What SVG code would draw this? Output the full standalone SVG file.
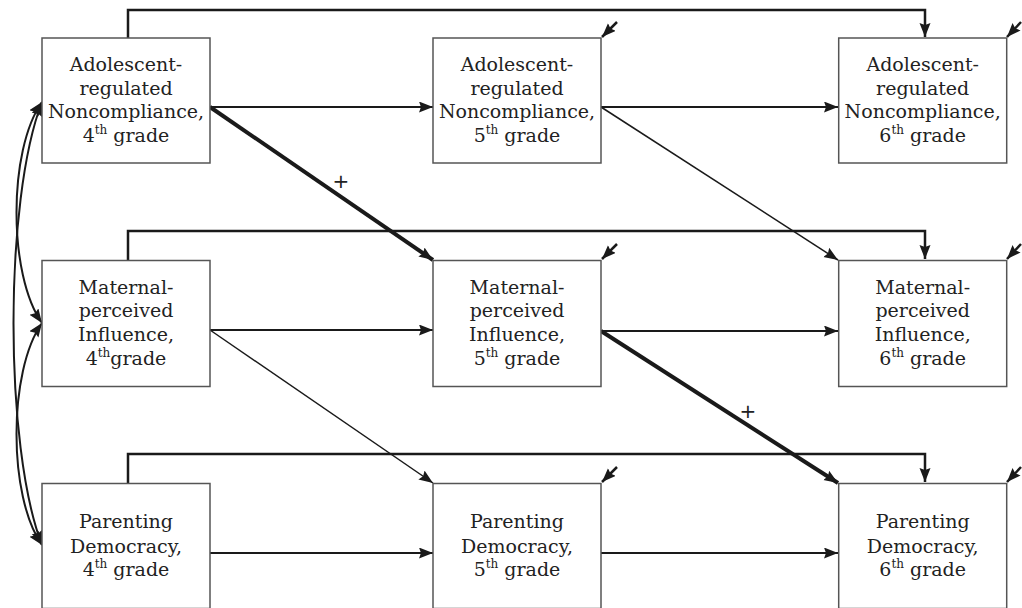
<svg xmlns="http://www.w3.org/2000/svg" width="1022" height="608" viewBox="0 0 1022 608">
<style>
.box{fill:#fff;stroke:#555;stroke-width:1.5}
.t{font-family:"DejaVu Serif","Liberation Serif",serif;font-size:19px;fill:#222;text-anchor:middle}
.sup{font-size:12px}
.c{fill:none;stroke:#1a1a1a}
.n{stroke-width:2;marker-end:url(#ah)}
.r{stroke-width:2.5;marker-end:url(#ah)}
.thin{stroke-width:1.5;marker-end:url(#ah)}
.thick{stroke-width:4;marker-end:url(#ah)}
.fb{stroke-width:2.5;marker-end:url(#ah)}
.cv{stroke-width:2;marker-start:url(#ahs);marker-end:url(#ah)}
.plus{font-family:"DejaVu Sans","Liberation Sans",sans-serif;font-size:20px;fill:#222;text-anchor:middle}
</style>
<defs>
<marker id="ah" markerUnits="userSpaceOnUse" markerWidth="15" markerHeight="12" refX="14" refY="5.5" orient="auto"><path d="M0,0 L14,5.5 L0,11 L2,5.5 z" fill="#1a1a1a"/></marker>
<marker id="ahs" markerUnits="userSpaceOnUse" markerWidth="15" markerHeight="12" refX="14" refY="5.5" orient="auto-start-reverse"><path d="M0,0 L14,5.5 L0,11 L2,5.5 z" fill="#1a1a1a"/></marker>
</defs>
<rect width="1022" height="608" fill="#fff"/>
<g id="connectors">
<path class="c fb" d="M128,38 V10 H925 V37"/>
<path class="c fb" d="M128,260 V231 H925 V259"/>
<path class="c fb" d="M128,483 V454 H925 V482"/>
<line class="c n" x1="210" y1="107" x2="433" y2="107"/>
<line class="c n" x1="601" y1="107" x2="838" y2="107"/>
<line class="c n" x1="210" y1="330" x2="433" y2="330"/>
<line class="c n" x1="601" y1="331" x2="838" y2="331"/>
<line class="c n" x1="210" y1="553" x2="433" y2="553"/>
<line class="c n" x1="601" y1="553" x2="838" y2="553"/>
<line class="c thick" x1="210" y1="107" x2="433" y2="260"/>
<line class="c thin" x1="601" y1="107" x2="838" y2="260"/>
<line class="c thin" x1="210" y1="330" x2="433" y2="483"/>
<line class="c thick" x1="601" y1="331" x2="838" y2="483"/>
<path class="c cv" d="M42,102 C8,150 8,275 42,323"/>
<path class="c cv" d="M42,323 C8,371 8,497 42,545"/>
<path class="c cv" d="M42,102 C4,200 4,447 42,545"/>
<line class="c r" x1="617" y1="22" x2="602" y2="37"/>
<line class="c r" x1="1021" y1="22" x2="1007" y2="37"/>
<line class="c r" x1="617" y1="244" x2="602" y2="259"/>
<line class="c r" x1="1021" y1="244" x2="1007" y2="259"/>
<line class="c r" x1="617" y1="467" x2="602" y2="482"/>
<line class="c r" x1="1021" y1="467" x2="1007" y2="482"/>
<text class="plus" x="341" y="188">+</text>
<text class="plus" x="748" y="418">+</text>
</g>
<g id="arn4">
<rect class="box" x="42" y="38" width="168" height="125"/>
<text class="t" x="126" y="71">Adolescent-</text>
<text class="t" x="126" y="94.5">regulated</text>
<text class="t" x="126" y="118">Noncompliance,</text>
<text class="t" x="126" y="141.5">4<tspan class="sup" dy="-8">th</tspan><tspan dy="8"> grade</tspan></text>
</g>
<g id="arn5">
<rect class="box" x="433" y="38" width="168" height="125"/>
<text class="t" x="517" y="71">Adolescent-</text>
<text class="t" x="517" y="94.5">regulated</text>
<text class="t" x="517" y="118">Noncompliance,</text>
<text class="t" x="517" y="141.5">5<tspan class="sup" dy="-8">th</tspan><tspan dy="8"> grade</tspan></text>
</g>
<g id="arn6">
<rect class="box" x="838.7" y="38" width="168" height="125"/>
<text class="t" x="922.7" y="71">Adolescent-</text>
<text class="t" x="922.7" y="94.5">regulated</text>
<text class="t" x="922.7" y="118">Noncompliance,</text>
<text class="t" x="922.7" y="141.5">6<tspan class="sup" dy="-8">th</tspan><tspan dy="8"> grade</tspan></text>
</g>
<g id="mpi4">
<rect class="box" x="42" y="260.5" width="168" height="126"/>
<text class="t" x="126" y="293.5">Maternal-</text>
<text class="t" x="126" y="317">perceived</text>
<text class="t" x="126" y="341">Influence,</text>
<text class="t" x="126" y="364.5">4<tspan class="sup" dy="-8">th</tspan><tspan dy="8">grade</tspan></text>
</g>
<g id="mpi5">
<rect class="box" x="433" y="260.5" width="168" height="126"/>
<text class="t" x="517" y="293.5">Maternal-</text>
<text class="t" x="517" y="317">perceived</text>
<text class="t" x="517" y="341">Influence,</text>
<text class="t" x="517" y="364.5">5<tspan class="sup" dy="-8">th</tspan><tspan dy="8"> grade</tspan></text>
</g>
<g id="mpi6">
<rect class="box" x="838.7" y="260.5" width="168" height="126"/>
<text class="t" x="922.7" y="293.5">Maternal-</text>
<text class="t" x="922.7" y="317">perceived</text>
<text class="t" x="922.7" y="341">Influence,</text>
<text class="t" x="922.7" y="364.5">6<tspan class="sup" dy="-8">th</tspan><tspan dy="8"> grade</tspan></text>
</g>
<g id="pd4">
<rect class="box" x="42" y="483.5" width="168" height="125"/>
<text class="t" x="126" y="528">Parenting</text>
<text class="t" x="126" y="552.5">Democracy,</text>
<text class="t" x="126" y="576">4<tspan class="sup" dy="-8">th</tspan><tspan dy="8"> grade</tspan></text>
</g>
<g id="pd5">
<rect class="box" x="433" y="483.5" width="168" height="125"/>
<text class="t" x="517" y="528">Parenting</text>
<text class="t" x="517" y="552.5">Democracy,</text>
<text class="t" x="517" y="576">5<tspan class="sup" dy="-8">th</tspan><tspan dy="8"> grade</tspan></text>
</g>
<g id="pd6">
<rect class="box" x="838.7" y="483.5" width="168" height="125"/>
<text class="t" x="922.7" y="528">Parenting</text>
<text class="t" x="922.7" y="552.5">Democracy,</text>
<text class="t" x="922.7" y="576">6<tspan class="sup" dy="-8">th</tspan><tspan dy="8"> grade</tspan></text>
</g>
</svg>
